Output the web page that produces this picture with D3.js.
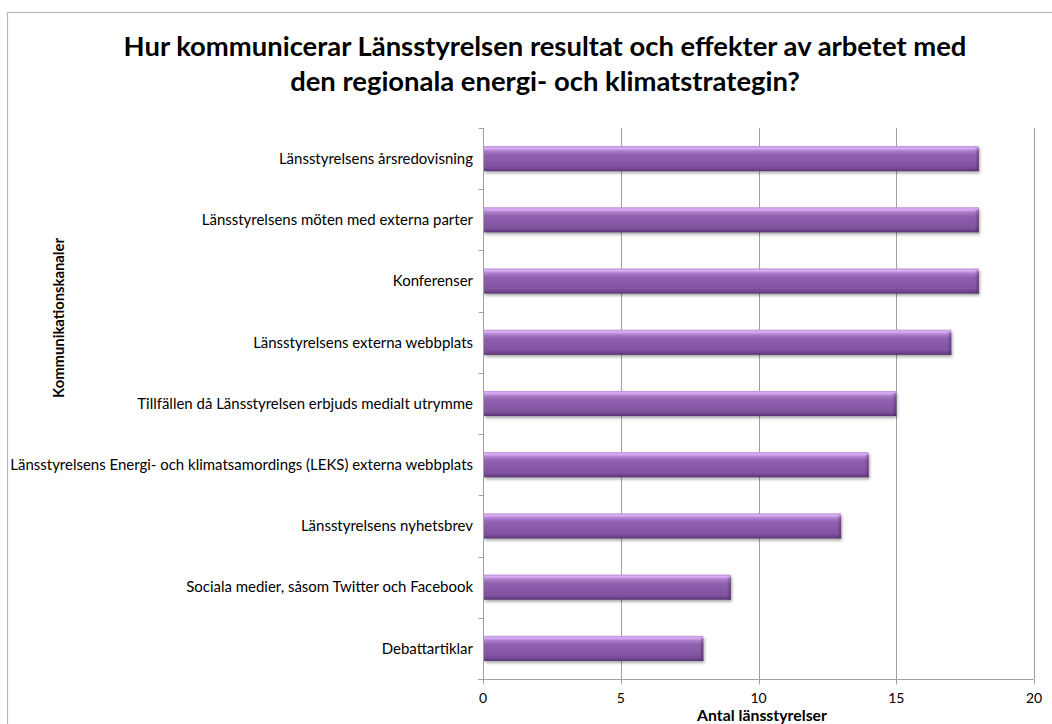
<!DOCTYPE html>
<html><head><meta charset="utf-8">
<script src="https://cdn.jsdelivr.net/npm/d3@7"></script>
<style>body{margin:0;background:#fff;}svg{display:block;}</style>
</head><body>
<svg id="c" width="1052" height="724"></svg>
<script>
const categories = [
  "Länsstyrelsens årsredovisning",
  "Länsstyrelsens möten med externa parter",
  "Konferenser",
  "Länsstyrelsens externa webbplats",
  "Tillfällen då Länsstyrelsen erbjuds medialt utrymme",
  "Länsstyrelsens Energi- och klimatsamordings (LEKS) externa webbplats",
  "Länsstyrelsens nyhetsbrev",
  "Sociala medier, såsom Twitter och Facebook",
  "Debattartiklar"
];
const values = [18, 18, 18, 17, 15, 14, 13, 9, 8];
const xTicks = [0, 5, 10, 15, 20];
const titleLines = ["Hur kommunicerar Länsstyrelsen resultat och effekter av arbetet med",
                    "den regionala energi- och klimatstrategin?"];
const xTitle = "Antal länsstyrelser";
const yTitle = "Kommunikationskanaler";

const FONT = "Lato, 'Open Sans', sans-serif";
const svg = d3.select("#c");
const L = 483, R = 1034, T = 128, B = 679;

// outer border
svg.append("rect").attr("x", 7.5).attr("y", 12.5).attr("width", 1100).attr("height", 800)
  .attr("fill", "#fff").attr("stroke", "#b8b8b8").attr("stroke-width", 1.2);

const defs = svg.append("defs");
const g1 = defs.append("linearGradient").attr("id", "barG").attr("x1", 0).attr("y1", 0).attr("x2", 0).attr("y2", 1);
[[0, "#b88ad6"], [0.08, "#dcb2f5"], [0.2, "#ab7bcb"], [0.35, "#9061ae"], [0.8, "#8253a1"], [0.92, "#70458e"], [1, "#52306b"]]
  .forEach(([o, c]) => g1.append("stop").attr("offset", o).attr("stop-color", c));
const g2 = defs.append("linearGradient").attr("id", "endG").attr("x1", 0).attr("y1", 0).attr("x2", 1).attr("y2", 0);
[[0, "rgba(60,30,80,0)"], [1, "rgba(60,30,80,0.45)"]].forEach(([o, c]) => g2.append("stop").attr("offset", o).attr("stop-color", c));
const flt = defs.append("filter").attr("id", "sh").attr("x", "-5%").attr("y", "-30%").attr("width", "110%").attr("height", "180%");
flt.append("feGaussianBlur").attr("in", "SourceAlpha").attr("stdDeviation", 1.5);
flt.append("feOffset").attr("dx", 1).attr("dy", 2).attr("result", "b");
flt.append("feComponentTransfer").append("feFuncA").attr("type", "linear").attr("slope", 0.35);
const m = flt.append("feMerge"); m.append("feMergeNode"); m.append("feMergeNode").attr("in", "SourceGraphic");

const x = d3.scaleLinear().domain([0, 20]).range([L, R]);
const y = d3.scaleBand().domain(categories).range([T, B]).padding(0);

// gridlines
svg.append("g").selectAll("line").data(xTicks.slice(1)).join("line")
  .attr("x1", d => Math.round(x(d)) + 0.5).attr("x2", d => Math.round(x(d)) + 0.5)
  .attr("y1", T).attr("y2", B).attr("stroke", "#a0a0a0").attr("stroke-width", 1);

// bars
const bh = y.bandwidth() * 0.41;
const bars = svg.append("g").selectAll("g").data(categories).join("g");
bars.append("rect").attr("x", x(0) + 1).attr("y", d => y(d) + y.bandwidth() / 2 - bh / 2)
  .attr("width", (d, i) => x(values[i]) - x(0) - 1).attr("height", bh)
  .attr("fill", "url(#barG)").attr("filter", "url(#sh)");
bars.append("rect").attr("x", (d, i) => x(values[i]) - 4).attr("y", d => y(d) + y.bandwidth() / 2 - bh / 2 + 2)
  .attr("width", 4).attr("height", bh - 2).attr("fill", "url(#endG)");

// axes
const yAxis = svg.append("g").attr("transform", `translate(${L + 0.5},0)`);
yAxis.append("line").attr("y1", T).attr("y2", B + 5).attr("stroke", "#a0a0a0");
const yTickPos = d3.range(categories.length + 1).map(i => T + i * y.step());
yAxis.selectAll("line.t").data(yTickPos).join("line").attr("class", "t")
  .attr("x1", -5).attr("x2", 0).attr("y1", d => Math.round(d) + 0.5).attr("y2", d => Math.round(d) + 0.5).attr("stroke", "#a0a0a0");

const xAxis = svg.append("g").attr("transform", `translate(0,${B + 0.5})`);
xAxis.append("line").attr("x1", L - 5).attr("x2", R).attr("stroke", "#a0a0a0");
xAxis.selectAll("line.t").data(xTicks).join("line").attr("class", "t")
  .attr("x1", d => Math.round(x(d)) + 0.5).attr("x2", d => Math.round(x(d)) + 0.5).attr("y1", 0).attr("y2", 5).attr("stroke", "#a0a0a0");
xAxis.selectAll("text").data(xTicks).join("text")
  .attr("x", d => x(d)).attr("y", 23).attr("text-anchor", "middle")
  .attr("font-family", FONT).attr("font-size", 14).attr("fill", "#000").text(d => d);

// category labels
const labs = svg.append("g").selectAll("text").data(categories).join("text")
  .attr("x", 473).attr("y", d => y(d) + y.bandwidth() / 2).attr("dy", "0.35em")
  .attr("text-anchor", "end").attr("font-family", FONT).attr("fill", "#000").text(d => d);
labs.attr("font-size", 12);
const longest = labs.filter((d, i) => i === 5).node().getComputedTextLength();
labs.attr("font-size", 12 * 463 / longest);

// title
const tt = svg.append("g").selectAll("text").data(titleLines).join("text")
  .attr("x", 545).attr("y", (d, i) => 56 + i * 35).attr("text-anchor", "middle")
  .attr("font-family", FONT).attr("font-weight", "bold").attr("font-size", 20).attr("fill", "#000").text(d => d);
const tw = tt.filter((d, i) => i === 0).node().getComputedTextLength();
tt.attr("font-size", 20 * 843 / tw);

// axis titles
svg.append("text").attr("x", 762).attr("y", 721).attr("text-anchor", "middle")
  .attr("font-family", FONT).attr("font-weight", "bold").attr("font-size", 12.5).attr("fill", "#000").text(xTitle)
  .each(function () { const w = this.getComputedTextLength(); d3.select(this).attr("font-size", 12.5 * 130 / w); });
svg.append("text").attr("transform", "translate(64,318) rotate(-90)").attr("text-anchor", "middle")
  .attr("font-family", FONT).attr("font-weight", "bold").attr("font-size", 11).attr("fill", "#000").text(yTitle)
  .each(function () { const w = this.getComputedTextLength(); d3.select(this).attr("font-size", 11 * 160 / w); });
</script>
</body></html>
